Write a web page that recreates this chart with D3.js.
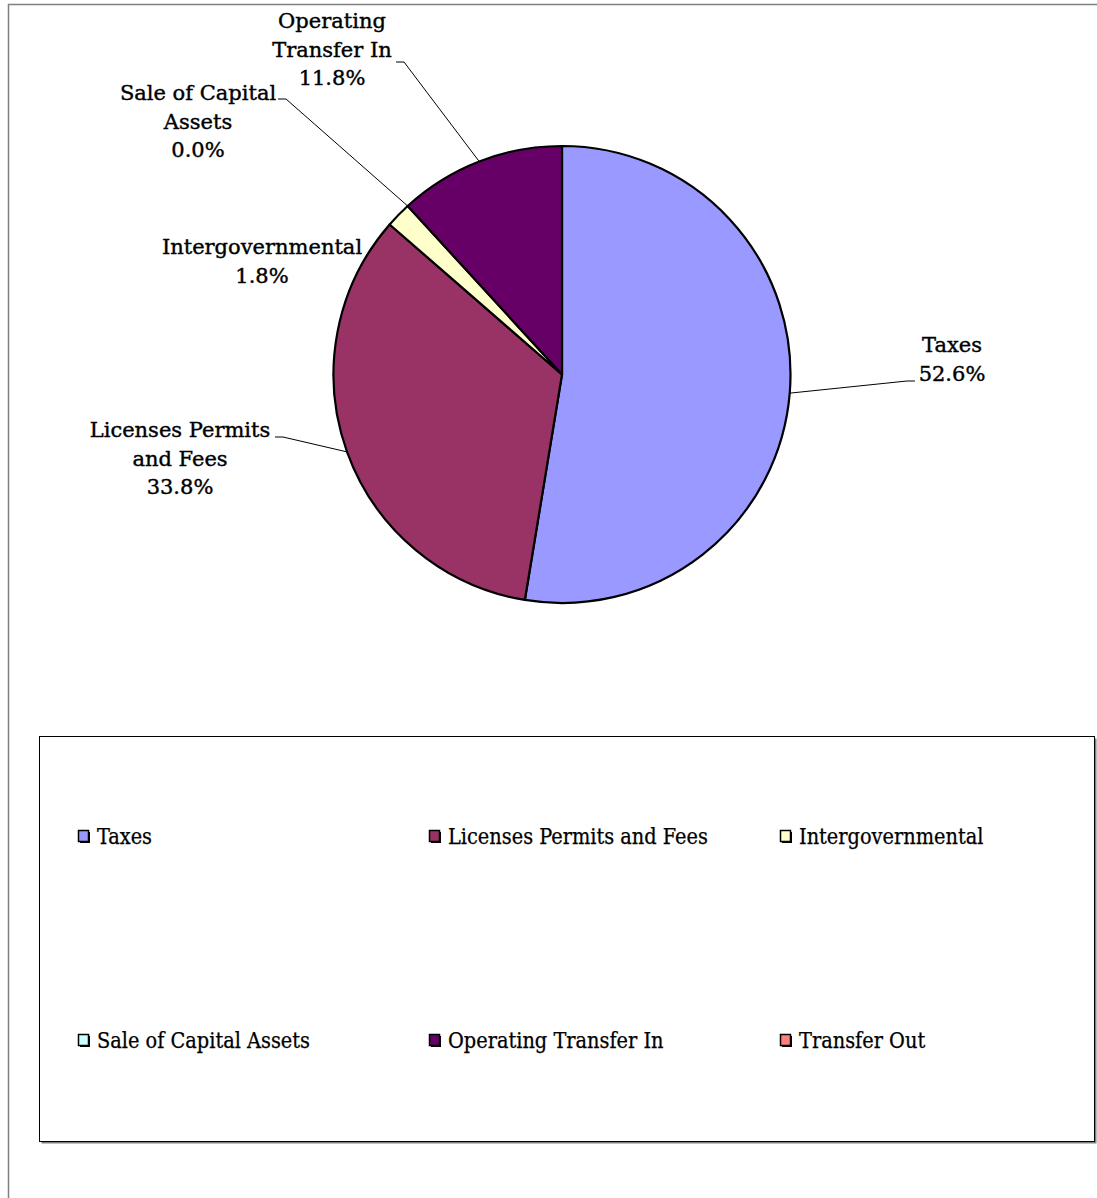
<!DOCTYPE html>
<html>
<head>
<meta charset="utf-8">
<script src="https://cdn.jsdelivr.net/npm/d3@7"></script>
<style>
  html, body { margin: 0; padding: 0; background: #fff; }
  svg { display: block; }
  text { font-family: "DejaVu Serif", "Liberation Serif", serif; fill: #000; }
  .legend-item text { font-family: "DejaVu Serif Condensed", "DejaVu Serif", serif; font-stretch: condensed; }
</style>
</head>
<body>
<svg id="chart" width="1097" height="1198"></svg>
<script>
// Revenue sources and their share of the total (%)
const categories = ["Taxes", "Licenses Permits and Fees", "Intergovernmental",
                    "Sale of Capital Assets", "Operating Transfer In", "Transfer Out"];
const shares = [52.6, 33.8, 1.8, 0.0, 11.8, 0.0];
const colors = ["#9999ff", "#993366", "#ffffcc", "#ccffff", "#660066", "#ff8080"];

// Slice label text lines (shown beside the pie)
const labelLines = [
  ["Taxes"],
  ["Licenses Permits", "and Fees"],
  ["Intergovernmental"],
  ["Sale of Capital", "Assets"],
  ["Operating", "Transfer In"],
  null
];

const svg = d3.select("#chart");

// Chart area frame
svg.append("rect")
  .attr("x", 8.5).attr("y", 4.5)
  .attr("width", 1100).attr("height", 1200)
  .attr("fill", "none").attr("stroke", "#808080").attr("stroke-width", 1.5);

const cx = 562, cy = 374.5, radius = 228.5;

const data = categories.map((c, i) => ({ name: c, value: shares[i], color: colors[i], lines: labelLines[i] }));

const pie = d3.pie().value(d => d.value).sort(null);
const arcs = pie(data);
const arc = d3.arc().innerRadius(0).outerRadius(radius);

const g = svg.append("g").attr("transform", `translate(${cx},${cy})`);

g.selectAll("path.slice")
  .data(arcs.filter(a => a.data.value > 0))
  .join("path")
  .attr("class", "slice")
  .attr("d", arc)
  .attr("fill", d => d.data.color)
  .attr("stroke", "#000")
  .attr("stroke-width", 2.2)
  .attr("stroke-linejoin", "round");

// Label placement (centre of text block and leader anchor), per slice
const labelPos = {
  "Taxes":                     { x: 952, y: 352, leader: [915, 381] },
  "Licenses Permits and Fees": { x: 180, y: 437, leader: [275, 437] },
  "Intergovernmental":         { x: 262, y: 254, leader: null },
  "Sale of Capital Assets":    { x: 198, y: 100, leader: [278, 99] },
  "Operating Transfer In":     { x: 332, y: 28,  leader: [396, 62] }
};

const lineH = 28.7;
const fmt = d3.format(".1f");

arcs.forEach(a => {
  const p = labelPos[a.data.name];
  if (!p) return;
  const lines = a.data.lines.concat([fmt(a.data.value) + "%"]);
  const t = svg.append("text")
    .attr("text-anchor", "middle")
    .attr("font-size", 21)
    .attr("stroke", "#000")
    .attr("stroke-width", 0.4);
  lines.forEach((ln, i) => {
    t.append("tspan").attr("x", p.x).attr("y", p.y + i * lineH).text(ln);
  });
  if (p.leader) {
    // leader line to the slice's outer edge at mid angle
    const mid = (a.startAngle + a.endAngle) / 2;
    const ex = cx + radius * Math.sin(mid);
    const ey = cy - radius * Math.cos(mid);
    const [lx, ly] = p.leader;
    const dir = ex > lx ? 1 : -1;
    svg.append("polyline")
      .attr("points", `${lx},${ly} ${lx + dir * 8},${ly} ${ex},${ey}`)
      .attr("fill", "none").attr("stroke", "#000").attr("stroke-width", 1);
  }
});

// Legend box with drop shadow
const lg = { x: 39.5, y: 736.5, w: 1055, h: 405 };
svg.append("rect")
  .attr("x", lg.x + 2).attr("y", lg.y + 2).attr("width", lg.w).attr("height", lg.h)
  .attr("fill", "#808080");
svg.append("rect")
  .attr("x", lg.x).attr("y", lg.y).attr("width", lg.w).attr("height", lg.h)
  .attr("fill", "#fff").attr("stroke", "#000").attr("stroke-width", 1);

const colX = [79, 430, 781];
const rowY = [837, 1041];

const items = svg.selectAll("g.legend-item")
  .data(data)
  .join("g")
  .attr("class", "legend-item")
  .attr("transform", (d, i) => `translate(${colX[i % 3]},${rowY[Math.floor(i / 3)]})`);

items.append("rect")
  .attr("x", 1).attr("y", -5)
  .attr("width", 10).attr("height", 11)
  .attr("fill", "#000");
items.append("rect")
  .attr("x", -0.5).attr("y", -6.5)
  .attr("width", 10).attr("height", 11)
  .attr("fill", d => d.color)
  .attr("stroke", "#000").attr("stroke-width", 1.5);
items.append("text")
  .attr("x", 18).attr("y", 7)
  .attr("font-size", 21.5)
  .attr("stroke", "#000")
  .attr("stroke-width", 0.25)
  .text(d => d.name);
</script>
</body>
</html>
